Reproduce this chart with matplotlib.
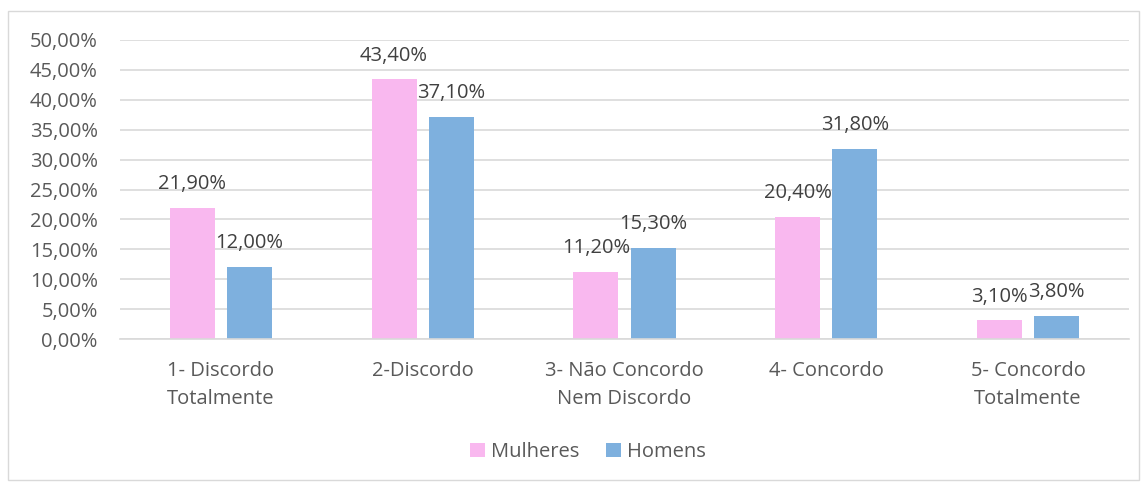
import numpy as np
import matplotlib.pyplot as plt
from matplotlib.patches import Rectangle

# Data
categorias = ["1- Discordo\nTotalmente", "2-Discordo", "3- Não Concordo\nNem Discordo",
              "4- Concordo", "5- Concordo\nTotalmente"]
mulheres = [21.9, 43.4, 11.2, 20.4, 3.1]
homens = [12.0, 37.1, 15.3, 31.8, 3.8]
yticks = np.arange(0, 55, 5)

cor_texto = "#595959"
plt.rcParams['font.family'] = ['Open Sans', 'DejaVu Sans']
fs = 14.5

fig = plt.figure(figsize=(11.47, 4.82), dpi=100)
ax = fig.add_axes([120 / 1147, 1 - 339 / 482, (1129 - 120) / 1147, 299 / 482])

x = np.arange(len(categorias))
w = 0.223
b1 = ax.bar(x - 0.142, mulheres, width=w, color="#F9B8EF", label="Mulheres", zorder=2)
b2 = ax.bar(x + 0.142, homens, width=w, color="#7EB0DE", label="Homens", zorder=2)

def fmt(v):
    return f"{v:.2f}%".replace(".", ",")

for bars, vals in [(b1, mulheres), (b2, homens)]:
    for rect, v in zip(bars, vals):
        ax.annotate(fmt(v), (rect.get_x() + rect.get_width() / 2, v),
                    xytext=(0, 10), textcoords="offset points",
                    ha="center", va="bottom", fontsize=fs, color="#404040")

ax.set_ylim(0, 50)
ax.set_xlim(-0.5, len(categorias) - 0.5)
ax.set_yticks(yticks)
ax.set_yticklabels([fmt(v) for v in yticks])
ax.set_xticks(x)
ax.set_xticklabels(categorias, linespacing=1.5)
ax.tick_params(axis="both", length=0, labelsize=fs, colors=cor_texto)
ax.tick_params(axis="x", pad=16)
ax.tick_params(axis="y", pad=16)
ax.grid(axis="y", color="#D9D9D9", linewidth=1.2, zorder=0)
for s in ["top", "right", "left"]:
    ax.spines[s].set_visible(False)
ax.spines["bottom"].set_color("#D9D9D9")
ax.spines["bottom"].set_linewidth(1.2)

leg = fig.legend(loc="center", bbox_to_anchor=(588 / 1147, 1 - 452 / 482), ncol=2,
                 frameon=False, fontsize=fs, handlelength=0.75, handleheight=0.75,
                 handletextpad=0.3, columnspacing=1.3)
for t in leg.get_texts():
    t.set_color(cor_texto)

# borda externa
fig.patches.append(Rectangle((8 / 1147, 2 / 482), 1131 / 1147, 469 / 482,
                             transform=fig.transFigure, fill=False,
                             edgecolor="#D9D9D9", linewidth=1))

fig.savefig("out.png", dpi=100)
